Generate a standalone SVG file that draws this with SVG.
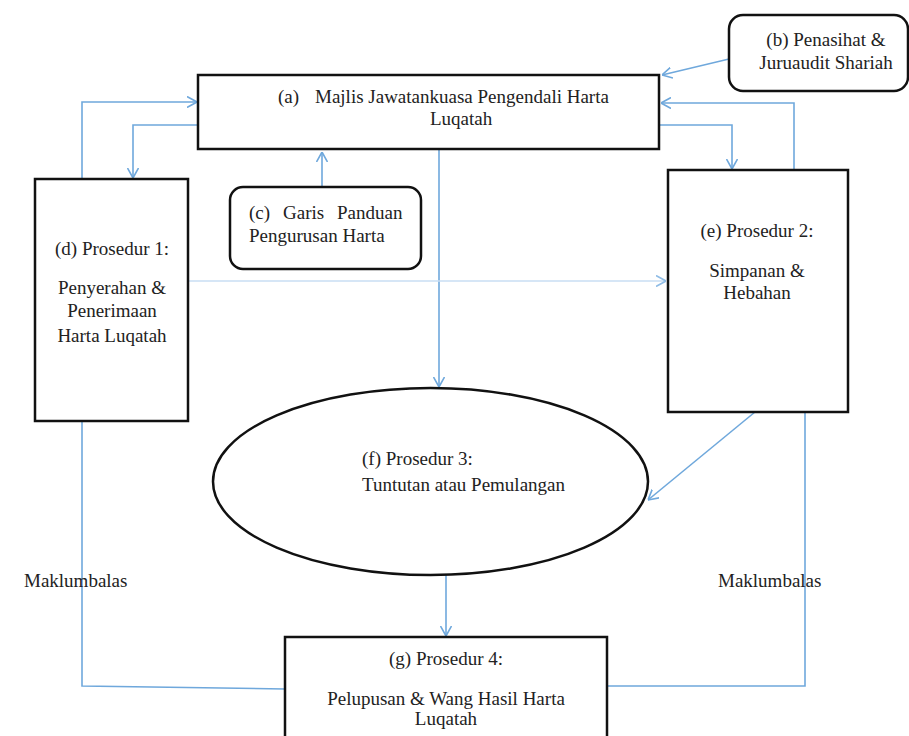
<svg xmlns="http://www.w3.org/2000/svg" width="909" height="736" viewBox="0 0 909 736" font-family="Liberation Serif, Times New Roman, serif">
<defs>
<style>
.box{fill:#fff;stroke:#111;stroke-width:2.5}
.t{font-size:19px;fill:#222}
.c{text-anchor:middle}
.ln{fill:none;stroke:#6fa8dc;stroke-width:1.6}
.lt{fill:none;stroke:#c9def3;stroke-width:1.6}
</style>
<marker id="ah" viewBox="0 0 10 12" refX="10" refY="6" markerWidth="10" markerHeight="12" orient="auto" markerUnits="userSpaceOnUse">
<path d="M0,0.5 L10,6 L0,11.5" fill="none" stroke="#6fa8dc" stroke-width="1.6"/>
</marker>
<marker id="ahl" viewBox="0 0 10 12" refX="10" refY="6" markerWidth="10" markerHeight="12" orient="auto" markerUnits="userSpaceOnUse">
<path d="M0,0.5 L10,6 L0,11.5" fill="none" stroke="#8fbce6" stroke-width="1.6"/>
</marker>
</defs>
<rect width="909" height="736" fill="#fff"/>
<g id="connectors">
<path class="ln" d="M729,59 L662,75" marker-end="url(#ah)"/>
<path class="ln" d="M794,170 L794,103 L661,103" marker-end="url(#ah)"/>
<path class="ln" d="M659,125 L732,125 L732,169" marker-end="url(#ah)"/>
<path class="ln" d="M82,179 L82,102 L197,102" marker-end="url(#ah)"/>
<path class="ln" d="M198,125 L133,125 L133,178" marker-end="url(#ah)"/>
<path class="ln" d="M322,187 L322,152" marker-end="url(#ah)"/>
<path class="ln" d="M439,149 L439,387" marker-end="url(#ah)"/>
<path class="lt" d="M188,281 L666,281" marker-end="url(#ahl)"/>
<path class="ln" d="M755,412 L648,500" marker-end="url(#ah)"/>
<path class="ln" d="M446,575 L446,636" marker-end="url(#ah)"/>
<path class="ln" d="M82,421 L82,686 L285,689"/>
<path class="ln" d="M805,412 L805,686 L607,686"/>
</g>
<g id="node-a">
<rect class="box" x="198" y="75" width="461" height="74"/>
<text class="t" y="103"><tspan x="278">(a)</tspan><tspan x="315">Majlis Jawatankuasa Pengendali Harta</tspan></text>
<text class="t" x="430" y="125">Luqatah</text>
</g>
<g id="node-b">
<rect class="box" x="729" y="15" width="179" height="76" rx="14"/>
<text class="t c" x="826" y="46">(b) Penasihat &amp;</text>
<text class="t c" x="826" y="69">Juruaudit Shariah</text>
</g>
<g id="node-c">
<rect class="box" x="230" y="187" width="191" height="82" rx="13"/>
<text class="t" y="219"><tspan x="249">(c)</tspan><tspan x="283">Garis</tspan><tspan x="337">Panduan</tspan></text>
<text class="t" x="249" y="242">Pengurusan Harta</text>
</g>
<g id="node-d">
<rect class="box" x="35" y="179" width="153" height="242"/>
<text class="t c" x="112" y="255">(d) Prosedur 1:</text>
<text class="t c" x="112" y="294">Penyerahan &amp;</text>
<text class="t c" x="112" y="317">Penerimaan</text>
<text class="t c" x="112" y="342">Harta Luqatah</text>
</g>
<g id="node-e">
<rect class="box" x="668" y="170" width="180" height="242"/>
<text class="t c" x="757" y="237">(e) Prosedur 2:</text>
<text class="t c" x="757" y="277">Simpanan &amp;</text>
<text class="t c" x="757" y="299">Hebahan</text>
</g>
<g id="node-f">
<ellipse class="box" cx="430.5" cy="481.5" rx="217.5" ry="93.5"/>
<text class="t" x="362" y="465">(f) Prosedur 3:</text>
<text class="t" x="362" y="491">Tuntutan atau Pemulangan</text>
</g>
<g id="node-g">
<rect class="box" x="285" y="637" width="322" height="120"/>
<text class="t c" x="446" y="665">(g) Prosedur 4:</text>
<text class="t c" x="446" y="705">Pelupusan &amp; Wang Hasil Harta</text>
<text class="t c" x="446" y="725">Luqatah</text>
</g>
<g id="labels">
<text class="t" x="24" y="587">Maklumbalas</text>
<text class="t" x="718" y="587">Maklumbalas</text>
</g>
</svg>
